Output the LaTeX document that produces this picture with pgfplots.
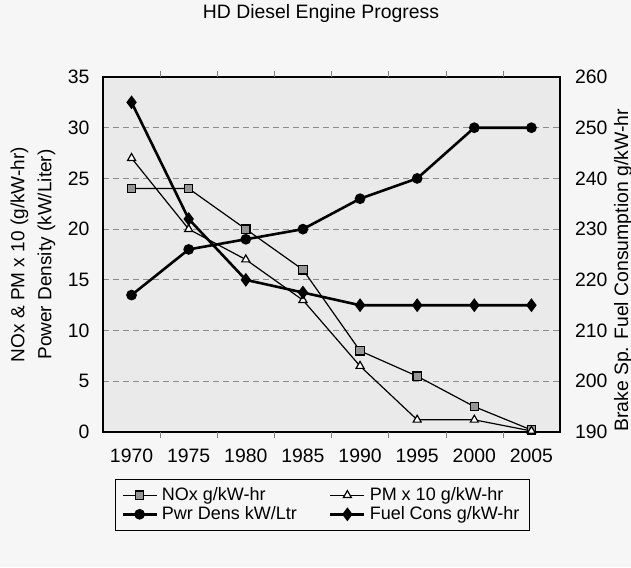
\documentclass[border=0pt]{standalone}
\usepackage{pgfplots}
\pgfplotsset{compat=1.18}
\usepackage{fontspec}
\setmainfont{Liberation Sans}
\definecolor{pagebg}{RGB}{246,246,246}
\definecolor{plotbg}{RGB}{234,234,234}
\definecolor{noxfill}{RGB}{150,150,150}
\newcommand{\chartfont}{\fontsize{9.7}{11}\selectfont}

\begin{document}
\begin{tikzpicture}
\fill[pagebg] (0,0) rectangle (315.5pt,283.5pt);
\useasboundingbox (0,0) rectangle (315.5pt,283.5pt);
\node[font=\chartfont] at (160.5pt,277pt) {HD Diesel Engine Progress};

% left axis: NOx, PM, power density
\begin{axis}[
  at={(51.5pt,67.5pt)}, anchor=south west,
  scale only axis, width=228.5pt, height=177.5pt,
  xmin=1967.5, xmax=2007.5, ymin=0, ymax=35,
  xtick={1970,1975,...,2005},
  xticklabels={1970,1975,1980,1985,1990,1995,2000,2005},
  ytick={0,5,...,35},
  major tick length=0pt,
  extra x ticks={1972.5,1977.5,1982.5,1987.5,1992.5,1997.5,2002.5},
  extra x tick labels={},
  extra x tick style={major tick length=3pt, tick align=outside, grid=none},
  ymajorgrids, grid style={black!45, densely dashed, line width=0.5pt},
  axis background/.style={fill=plotbg},
  axis line style={line width=0.8pt},
  /pgf/number format/assume math mode=true,
  ticklabel style={font=\chartfont},
  x tick label style={yshift=-5pt},
  y tick label style={xshift=-3.3pt},
  ylabel={NOx \& PM x 10 (g/kW-hr)\\Power Density (kW/Liter)},
  ylabel style={at={(axis description cs:-0.153,0.5)}, anchor=center,
    align=center, font=\fontsize{9.5}{13.5}\selectfont},
  clip=false,
  legend columns=2,
  legend cell align=left,
  legend style={at={(axis description cs:0.48,-0.205)}, anchor=center,
    draw=black, line width=0.4pt, fill=none, font=\fontsize{9}{9.5}\selectfont,
    /tikz/every even column/.append style={column sep=14pt},
    row sep=-2.5pt},
]
\addplot[black, line width=0.6pt, mark=square*, mark size=2.1pt,
  mark options={fill=noxfill, draw=black, solid}] coordinates {
  (1970,24) (1975,24) (1980,20) (1985,16) (1990,8) (1995,5.5) (2000,2.5) (2005,0.2)
};
\addlegendentry{NOx g/kW-hr}
\addplot[black, line width=0.6pt, mark=triangle*, mark size=2.3pt,
  mark options={fill=white, draw=black, solid}] coordinates {
  (1970,27) (1975,20) (1980,17) (1985,13) (1990,6.5) (1995,1.2) (2000,1.2) (2005,0.1)
};
\addlegendentry{PM x 10 g/kW-hr}
\addplot[black, line width=1.3pt, mark=*, mark size=2.0pt,
  mark options={fill=black, solid}] coordinates {
  (1970,13.5) (1975,18) (1980,19) (1985,20) (1990,23) (1995,25) (2000,30) (2005,30)
};
\addlegendentry{Pwr Dens kW/Ltr}
\addlegendimage{black, line width=1.3pt, mark=diamond*, mark size=2.4pt,
  mark options={fill=black, solid}}
\addlegendentry{Fuel Cons g/kW-hr}
\end{axis}

% right axis: fuel consumption
\begin{axis}[
  at={(51.5pt,67.5pt)}, anchor=south west,
  scale only axis, width=228.5pt, height=177.5pt,
  xmin=1967.5, xmax=2007.5, ymin=190, ymax=260,
  axis x line=none, axis y line*=right,
  ytick={190,200,...,260},
  major tick length=0pt,
  axis line style={line width=0.8pt},
  /pgf/number format/assume math mode=true,
  ticklabel style={font=\chartfont},
  y tick label style={xshift=4pt},
  ylabel={Brake Sp. Fuel Consumption g/kW-hr},
  ylabel style={at={(axis description cs:1.138,0.455)}, anchor=center,
    font=\chartfont},
  clip=false,
]
\addplot[black, line width=1.3pt, mark=diamond*, mark size=2.4pt,
  mark options={fill=black, solid}] coordinates {
  (1970,255) (1975,232) (1980,220) (1985,217.5) (1990,215) (1995,215) (2000,215) (2005,215)
};
\end{axis}
\end{tikzpicture}
\end{document}
